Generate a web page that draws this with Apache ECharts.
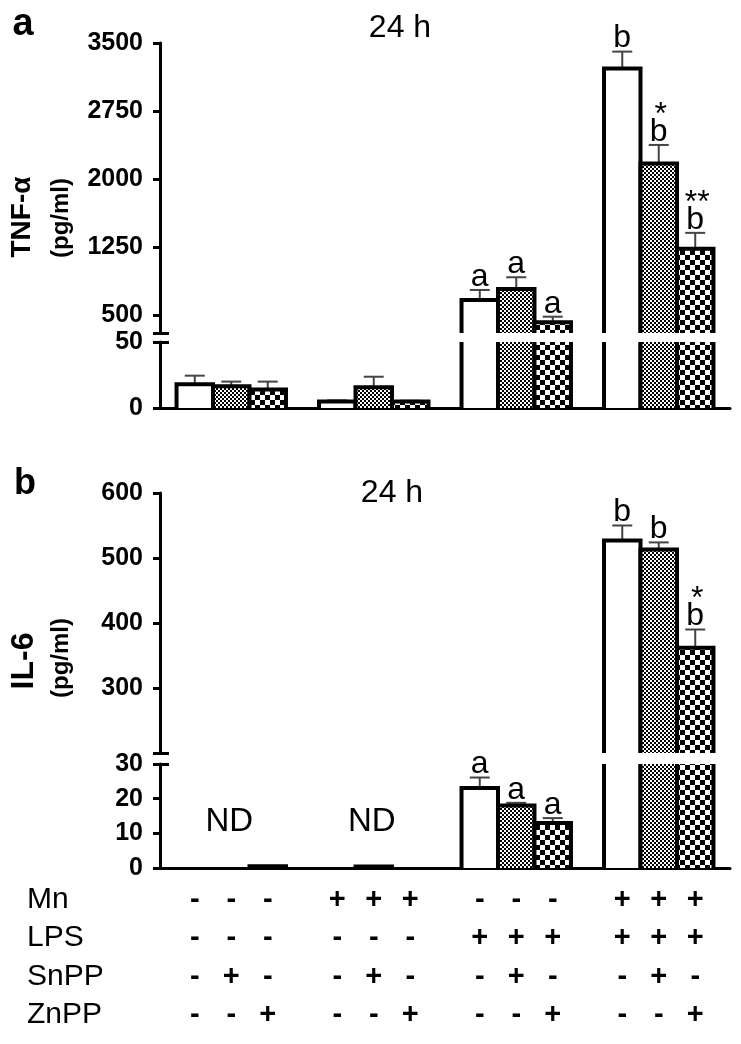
<!DOCTYPE html>
<html><head><meta charset="utf-8">
<script src="https://cdn.jsdelivr.net/npm/echarts@6/dist/echarts.min.js"></script>
<style>html,body{margin:0;padding:0;background:#fff}#c{width:741px;height:1044px}</style>
</head><body><div id="c"></div>
<script>
// ---------------- DATA ----------------
const groups = ['Control', 'Mn', 'LPS', 'Mn+LPS'];
// Panel a: TNF-alpha (pg/ml); bars: no inhibitor, SnPP, ZnPP
const tnfNone = [18, 5, 665, 3220];
const tnfNoneErr = [6.5, 0.8, 110, 185];
const tnfSnPP = [16.5, 15.7, 785, 2170];
const tnfSnPPErr = [3.5, 8, 130, 205];
const tnfZnPP = [14, 5, 420, 1230];
const tnfZnPPErr = [6, 0.5, 60, 175];
const tnfLetters = [['', '', 'a', 'b'], ['', '', 'a', 'b'], ['', '', 'a', 'b']];
const tnfStars = [['', '', '', ''], ['', '', '', '*'], ['', '', '', '**']];
const tnfUpperRange = [300, 3500];
const tnfUpperTicks = [500, 1250, 2000, 2750, 3500];
const tnfLowerRange = [0, 50];
const tnfLowerTicks = [0, 50];
// Panel b: IL-6 (pg/ml)
const il6None = [0, 0, 23.1, 527];
const il6NoneErr = [0, 0, 3, 23];
const il6SnPP = [0, 0.4, 18, 513];
const il6SnPPErr = [0, 0, 0.8, 11];
const il6ZnPP = [0.5, 0, 13, 362];
const il6ZnPPErr = [0, 0, 1.4, 28];
const il6Letters = [['', '', 'a', 'b'], ['', '', 'a', 'b'], ['', '', 'a', 'b']];
const il6Stars = [['', '', '', ''], ['', '', '', ''], ['', '', '', '*']];
const il6ND = ['ND', 'ND', '', ''];
const il6UpperRange = [200, 600];
const il6UpperTicks = [300, 400, 500, 600];
const il6LowerRange = [0, 30];
const il6LowerTicks = [0, 10, 20, 30];
// Treatment table
const rowNames = ['Mn', 'LPS', 'SnPP', 'ZnPP'];
const mnRow   = ['-', '-', '-', '+', '+', '+', '-', '-', '-', '+', '+', '+'];
const lpsRow  = ['-', '-', '-', '-', '-', '-', '+', '+', '+', '+', '+', '+'];
const snppRow = ['-', '+', '-', '-', '+', '-', '-', '+', '-', '-', '+', '-'];
const znppRow = ['-', '-', '+', '-', '-', '+', '-', '-', '+', '-', '-', '+'];

// ---------------- STYLE ----------------
const FONT = '"Liberation Sans", Arial, Helvetica, sans-serif';
const BAR_FRAC = 0.256;

function makePattern(cell) {
  const c = document.createElement('canvas');
  c.width = cell * 2; c.height = cell * 2;
  const g = c.getContext('2d');
  g.fillStyle = '#fff'; g.fillRect(0, 0, c.width, c.height);
  g.fillStyle = '#000';
  g.fillRect(0, 0, cell, cell);
  g.fillRect(cell, cell, cell, cell);
  return { image: c, repeat: 'repeat' };
}
const FILLS = ['#ffffff', makePattern(2), makePattern(5)];

function buildItems(vals, errs, letters, stars) {
  const items = [];
  for (let k = 0; k < 3; k++) for (let g = 0; g < 4; g++) {
    items.push({ cat: g, k: k, v: vals[k][g], err: errs[k][g], letter: letters[k][g], star: stars[k][g] });
  }
  return items;
}
const itemsA = buildItems([tnfNone, tnfSnPP, tnfZnPP], [tnfNoneErr, tnfSnPPErr, tnfZnPPErr], tnfLetters, tnfStars);
const itemsB = buildItems([il6None, il6SnPP, il6ZnPP], [il6NoneErr, il6SnPPErr, il6ZnPPErr], il6Letters, il6Stars);

function txt(x, y, text, size, weight, align, valign) {
  return { type: 'text', x: x, y: y, style: { text: text, fill: '#000', fontSize: size, fontWeight: weight, fontFamily: FONT,
    align: align, verticalAlign: valign, textAlign: align, textVerticalAlign: valign } };
}

function barRenderer(items, ndLabels) {
  return function (params, api) {
    const d = items[params.dataIndex];
    const cs = params.coordSys;
    const yBot = cs.y + cs.height, yLim = cs.y;
    const bw = api.size([1, 0])[0] * BAR_FRAC;
    const gc = api.coord([d.cat, 0])[0];
    const cx = gc + (d.k - 1) * bw;
    const x0 = cx - bw / 2, x1 = cx + bw / 2;
    const children = [];
    if (ndLabels && d.k === 1 && ndLabels[d.cat]) {
      children.push(txt(gc - 2, yBot - 46, ndLabels[d.cat], 33, 'normal', 'center', 'middle'));
    }
    const yRaw = api.coord([d.cat, d.v])[1];
    if (d.v <= 0 || yRaw >= yBot) return { type: 'group', children: children };
    const topVisible = yRaw >= yLim;
    const yTop = Math.max(yRaw, yLim);
    children.push({ type: 'rect', shape: { x: x0, y: yTop, width: bw, height: yBot - yTop }, style: { fill: FILLS[d.k] } });
    let topY = yRaw;
    if (topVisible && d.err > 0) {
      const capY = api.coord([d.cat, d.v + d.err])[1];
      topY = capY;
      children.push({ type: 'line', shape: { x1: cx, y1: yRaw, x2: cx, y2: capY }, style: { stroke: '#444', lineWidth: 2 } });
      children.push({ type: 'line', shape: { x1: cx - 10, y1: capY, x2: cx + 10, y2: capY }, style: { stroke: '#444', lineWidth: 2 } });
    }
    if (topVisible) {
      children.push({ type: 'polyline', shape: { points: [[x0, yBot], [x0, yTop], [x1, yTop], [x1, yBot]] },
        style: { stroke: '#000', lineWidth: 4, fill: null, lineJoin: 'miter' } });
      if (d.letter) children.push(txt(cx, topY + 3, d.letter, 32, 'normal', 'center', 'bottom'));
      if (d.star) children.push(txt(cx + 2, topY - 14, d.star, 32, 'normal', 'center', 'bottom'));
    } else {
      children.push({ type: 'line', shape: { x1: x0, y1: yBot, x2: x0, y2: yLim }, style: { stroke: '#000', lineWidth: 4 } });
      children.push({ type: 'line', shape: { x1: x1, y1: yBot, x2: x1, y2: yLim }, style: { stroke: '#000', lineWidth: 4 } });
    }
    return { type: 'group', children: children };
  };
}

const tableItems = [];
for (let i = 0; i < 12; i++) tableItems.push({ cat: Math.floor(i / 3), k: i % 3, i: i });
const tableRows = [mnRow, lpsRow, snppRow, znppRow];
const ROW_OFFSETS = [32, 70, 109, 147];
function tableRenderer(params, api) {
  const d = tableItems[params.dataIndex];
  const cs = params.coordSys;
  const yBot = cs.y + cs.height;
  const bw = api.size([1, 0])[0] * BAR_FRAC;
  const cx = api.coord([d.cat, 0])[0] + (d.k - 1) * bw;
  const children = tableRows.map((row, r) => txt(cx, yBot + ROW_OFFSETS[r], row[d.i], 29, 'bold', 'center', 'middle'));
  return { type: 'group', children: children };
}

function yMain(gi, range, ticks, mark) {
  return { type: 'value', gridIndex: gi, min: range[0], max: range[1], position: 'left', offset: 0,
    axisLine: { show: true, onZero: false, lineStyle: { color: '#000', width: 3 } },
    axisTick: { show: true, inside: false, length: 7, customValues: mark != null ? ticks.concat([mark]) : ticks, lineStyle: { color: '#000', width: 3 } },
    axisLabel: { show: true, customValues: ticks, margin: 17, color: '#000', fontSize: 25, fontWeight: 'bold', fontFamily: FONT,
      formatter: function (v) { return String(v); } },
    splitLine: { show: false } };
}
function yMark(gi, range, mark) {
  return { type: 'value', gridIndex: gi, min: range[0], max: range[1], position: 'left', offset: 0,
    axisLine: { show: false }, axisLabel: { show: false }, splitLine: { show: false },
    axisTick: { show: true, inside: true, length: 9, customValues: [mark], lineStyle: { color: '#000', width: 3 } } };
}
function xAx(gi, show) {
  return { type: 'category', gridIndex: gi, data: groups,
    axisLine: { show: show, onZero: false, lineStyle: { color: '#000', width: 3 } },
    axisTick: { show: false }, axisLabel: { show: false }, splitLine: { show: false } };
}
function gridAt(top, height) {
  return { left: 160, top: top, width: 570, height: height, containLabel: false, outerBoundsMode: 'none' };
}

const chart = echarts.init(document.getElementById('c'), null, { renderer: 'canvas' });
const option = {
  animation: false,
  backgroundColor: '#fff',
  grid: [gridAt(43, 290), gridAt(342, 66), gridAt(493, 260), gridAt(764, 104)],
  xAxis: [xAx(0, false), xAx(1, true), xAx(2, false), xAx(3, true)],
  yAxis: [
    yMain(0, tnfUpperRange, tnfUpperTicks, tnfUpperRange[0]), yMark(0, tnfUpperRange, tnfUpperRange[0]),
    yMain(1, tnfLowerRange, tnfLowerTicks, null), yMark(1, tnfLowerRange, tnfLowerRange[1]),
    yMain(2, il6UpperRange, il6UpperTicks, il6UpperRange[0]), yMark(2, il6UpperRange, il6UpperRange[0]),
    yMain(3, il6LowerRange, il6LowerTicks, null), yMark(3, il6LowerRange, il6LowerRange[1])
  ],
  series: [
    { type: 'custom', xAxisIndex: 0, yAxisIndex: 0, renderItem: barRenderer(itemsA, null), data: itemsA.map(d => [d.cat, d.v]), encode: { x: 0, y: 1 }, clip: false },
    { type: 'custom', xAxisIndex: 1, yAxisIndex: 2, renderItem: barRenderer(itemsA, null), data: itemsA.map(d => [d.cat, d.v]), encode: { x: 0, y: 1 }, clip: false },
    { type: 'custom', xAxisIndex: 2, yAxisIndex: 4, renderItem: barRenderer(itemsB, null), data: itemsB.map(d => [d.cat, d.v]), encode: { x: 0, y: 1 }, clip: false },
    { type: 'custom', xAxisIndex: 3, yAxisIndex: 6, renderItem: barRenderer(itemsB, il6ND), data: itemsB.map(d => [d.cat, d.v]), encode: { x: 0, y: 1 }, clip: false },
    { type: 'custom', xAxisIndex: 3, yAxisIndex: 6, renderItem: tableRenderer, data: tableItems.map(d => [d.cat, 0]), encode: { x: 0, y: 1 }, clip: false }
  ],
  graphic: [
    txt(23, 25, 'a', 38, 'bold', 'center', 'middle'),
    txt(25, 484, 'b', 36, 'bold', 'center', 'middle'),
    txt(400, 28, '24 h', 32, 'normal', 'center', 'middle'),
    txt(392, 493, '24 h', 32, 'normal', 'center', 'middle'),
    Object.assign(txt(22, 217, 'TNF-α', 28, 'bold', 'center', 'middle'), { rotation: Math.PI / 2 }),
    Object.assign(txt(61, 218, '(pg/ml)', 24, 'bold', 'center', 'middle'), { rotation: Math.PI / 2 }),
    Object.assign(txt(24, 661, 'IL-6', 32, 'bold', 'center', 'middle'), { rotation: Math.PI / 2 }),
    Object.assign(txt(61, 658, '(pg/ml)', 24, 'bold', 'center', 'middle'), { rotation: Math.PI / 2 }),
    txt(27, 900, rowNames[0], 30, 'normal', 'left', 'middle'),
    txt(27, 938, rowNames[1], 30, 'normal', 'left', 'middle'),
    txt(27, 977, rowNames[2], 30, 'normal', 'left', 'middle'),
    txt(27, 1015, rowNames[3], 30, 'normal', 'left', 'middle')
  ]
};
chart.setOption(option);
</script>
</body></html>
